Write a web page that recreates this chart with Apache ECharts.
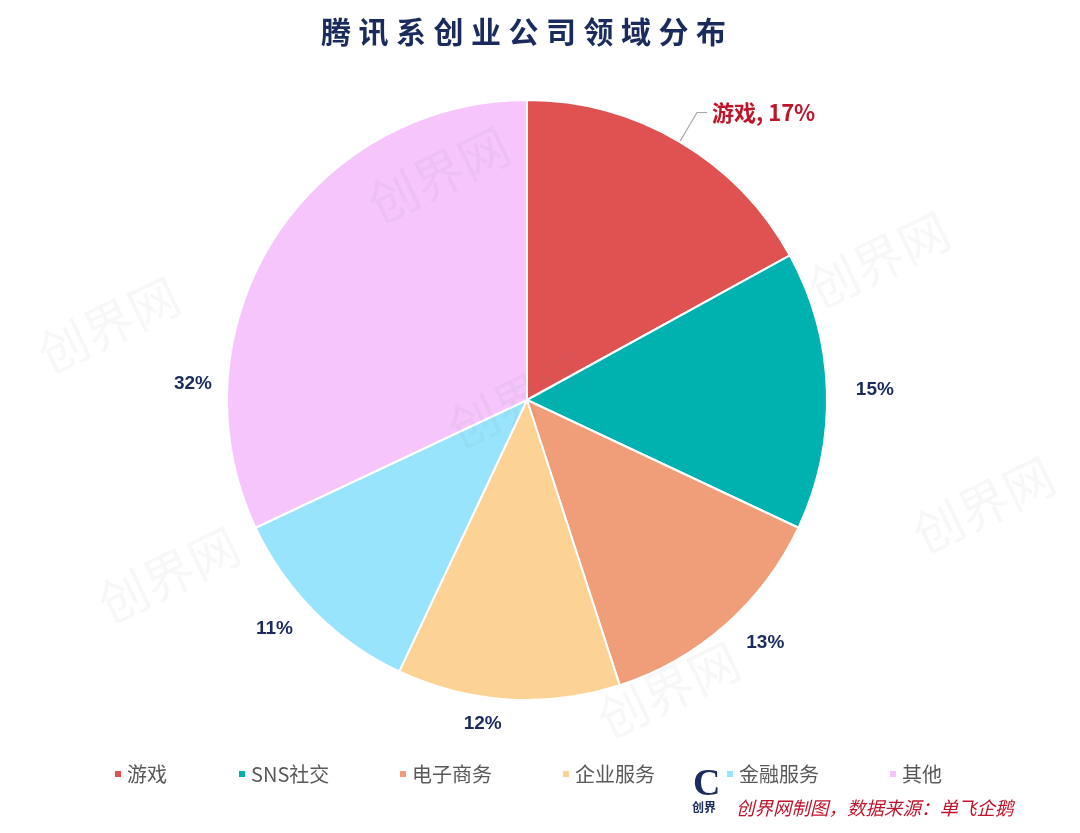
<!DOCTYPE html>
<html>
<head>
<meta charset="utf-8">
<title>腾讯系创业公司领域分布</title>
<script src="https://cdn.jsdelivr.net/npm/echarts@6/dist/echarts.min.js"></script>
<style>
  html, body { margin: 0; padding: 0; background: #fff; }
  #chart { width: 1080px; height: 833px; }
</style>
</head>
<body>
<div id="chart"></div>
<script>
  // 数据
  var titleText = '腾讯系创业公司领域分布';
  var categories = ['游戏', 'SNS社交', '电子商务', '企业服务', '金融服务', '其他'];
  var shares = [17, 15, 13, 12, 11, 32];
  var sourceText = '创界网制图，数据来源：单飞企鹅';

  var colors = ['#E05252', '#00B2AF', '#F09E7A', '#FCD394', '#98E4FC', '#F5C5FC'];
  var fontCn = '"Noto Sans CJK SC", "Noto Sans", sans-serif';
  var fontNum = '"Liberation Sans Narrow", "Liberation Sans", Roboto, sans-serif';

  var chart = echarts.init(document.getElementById('chart'));

  // 图例每项单独放，间距跟原图一致
  var legendLeft = [108, 232, 393, 556, 720, 883];
  var legends = categories.map(function (name, i) {
    return {
      data: [name],
      left: legendLeft[i],
      top: 759,
      icon: 'rect',
      itemWidth: 8,
      itemHeight: 8,
      itemGap: 6,
      selectedMode: false,
      textStyle: { color: '#595959', fontSize: 20, fontFamily: fontCn }
    };
  });

  // 水印
  var marks = [[30, 245], [360, 95], [800, 180], [440, 320], [90, 495], [905, 425], [590, 610]];
  var watermarks = marks.map(function (p) {
    return {
      type: 'text', x: p[0], y: p[1] + 90, rotation: 0.45, z: 100, silent: true,
      style: { text: '创界网', fill: 'rgba(120,120,120,0.06)', fontSize: 50, fontFamily: fontCn }
    };
  });

  var pieData = categories.map(function (name, i) {
    var item = { name: name, value: shares[i] };
    if (i === 0) {
      item.label = {
        formatter: '{b}, {d}%',
        color: '#C0142A',
        fontSize: 22,
        fontWeight: 'bold',
        fontFamily: fontCn
      };
      item.labelLine = { show: true, length: 34, length2: 10, lineStyle: { color: '#A6A6A6', width: 1.2 } };
    }
    return item;
  });

  var option = {
    color: colors,
    title: {
      text: titleText.split('').join('\u2005'),
      left: 316,
      top: 12,
      textStyle: { color: '#1B2B5E', fontSize: 30, fontWeight: 'bold', fontFamily: fontCn }
    },
    legend: legends,
    graphic: watermarks.concat([
      {
        type: 'text', left: 693, top: 766,
        style: { text: 'C', fill: '#1B2B5E', fontSize: 38, fontWeight: 'bold', fontFamily: 'Liberation Serif, serif' }
      },
      {
        type: 'text', left: 692, top: 801,
        style: { text: '创界', fill: '#1B2B5E', fontSize: 12, fontWeight: 'bold', fontFamily: fontCn }
      },
      {
        type: 'text', left: 736, top: 799,
        style: { text: sourceText, fill: '#C0142A', fontSize: 18.5, fontStyle: 'italic', fontFamily: fontCn }
      }
    ]),
    series: [{
      type: 'pie',
      center: [527, 400],
      radius: [0, 300],
      startAngle: 90,
      clockwise: true,
      animation: false,
      data: pieData,
      itemStyle: { borderColor: '#fff', borderWidth: 2 },
      label: {
        show: true,
        position: 'outside',
        formatter: '{d}%',
        color: '#1B2B5E',
        fontSize: 19,
        fontWeight: 'bold',
        fontFamily: fontNum
      },
      labelLine: { show: false, length: 24, length2: 0 },
      labelLayout: function (p) {
        // 32% 的标签在原图中放在左侧中部
        if (p.dataIndex === 5) {
          return { x: 212, y: 384, align: 'right', verticalAlign: 'middle' };
        }
      },
      emphasis: { disabled: true }
    }]
  };

  chart.setOption(option);
</script>
</body>
</html>
